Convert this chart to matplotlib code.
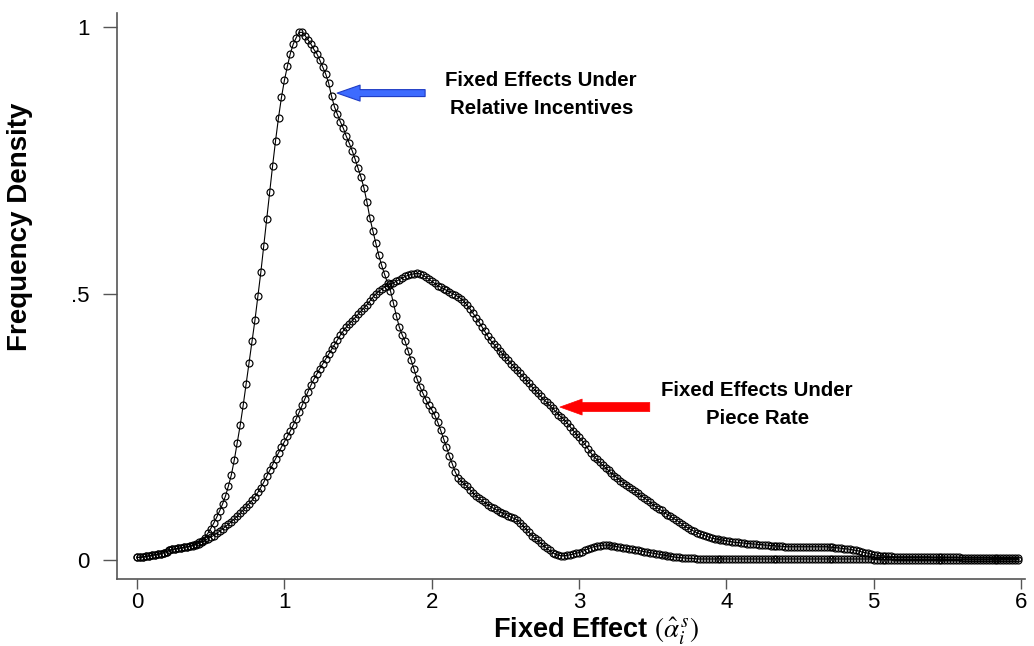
import numpy as np
import matplotlib
matplotlib.use("Agg")
import matplotlib.pyplot as plt

plt.rcParams["font.family"] = ["Liberation Sans", "DejaVu Sans"]
plt.rcParams["mathtext.fontset"] = "stix"

# kernel density evaluation grid (0 .. 5.98, step 0.02)
fe_grid = np.round(np.arange(0, 6.0, 0.02), 2)

# density of fixed effects under relative incentives
relative_density = [
    .005, .005, .006, .007, .008, .009, .010, .011, .012, .014,
    .016, .018, .020, .021, .022, .023, .024, .025, .026, .028,
    .030, .033, .036, .042, .050, .059, .069, .080, .092, .105,
    .120, .139, .160, .188, .220, .253, .290, .330, .370, .410,
    .450, .495, .540, .590, .640, .690, .740, .787, .830, .868,
    .900, .926, .950, .968, .980, .990, .990, .984, .976, .968,
    .958, .950, .938, .925, .912, .895, .870, .850, .836, .822,
    .810, .795, .782, .768, .752, .735, .718, .698, .672, .642,
    .618, .595, .572, .553, .536, .520, .505, .482, .458, .437,
    .422, .410, .392, .375, .358, .340, .325, .313, .301, .290,
    .282, .272, .259, .244, .228, .212, .195, .180, .165, .154,
    .148, .143, .138, .132, .126, .120, .116, .112, .108, .104,
    .100, .097, .094, .091, .088, .086, .083, .080, .078, .075,
    .070, .064, .058, .052, .046, .041, .037, .032, .027, .022,
    .018, .014, .011, .009, .008, .008, .009, .010, .011, .013,
    .014, .016, .018, .021, .023, .025, .026, .027, .028, .028,
    .028, .027, .026, .025, .024, .023, .022, .021, .020, .019,
    .018, .017, .016, .015, .014, .013, .012, .011, .010, .009,
    .008, .007, .006, .005, .005, .004, .004, .003, .003, .003,
    .002, .002, .002, .002, .002, .002, .002, .002, .002, .002,
    .002, .002, .002, .002, .002, .002, .002, .002, .002, .002,
    .002, .002, .002, .002, .002, .002, .002, .002, .002, .002,
    .002, .002, .002, .002, .002, .002, .002, .002, .002, .002,
    .002, .002, .002, .002, .002, .002, .002, .002, .002, .002,
    .002, .002, .002, .002, .002, .002, .002, .002, .002, .002,
    .001, .001, .001, .001, .001, .001, .001, .001, .001, .001,
    .001, .001, .001, .001, .001, .001, .001, .001, .001, .001,
    .001, .001, .001, .001, .001, .001, .001, .001, .001, .001,
    .001, .001, .001, .001, .001, .001, .001, .001, .001, .001,
    .001, .001, .001, .001, .001, .001, .001, .001, .001, .001,
]

# density of fixed effects under piece rate
piece_rate_density = [
    .005, .005, .006, .007, .008, .009, .010, .011, .012, .014,
    .016, .018, .020, .021, .022, .023, .024, .025, .026, .027,
    .029, .031, .034, .037, .040, .043, .046, .050, .054, .058,
    .063, .067, .072, .077, .082, .088, .094, .100, .106, .112,
    .119, .127, .136, .146, .157, .168, .179, .190, .201, .212,
    .222, .232, .242, .253, .265, .277, .290, .303, .316, .328,
    .339, .349, .359, .368, .377, .386, .395, .404, .413, .422,
    .430, .437, .443, .449, .455, .461, .467, .473, .479, .486,
    .493, .499, .504, .508, .512, .515, .518, .520, .523, .526,
    .529, .532, .534, .536, .537, .538, .537, .534, .531, .527,
    .523, .519, .515, .512, .509, .506, .503, .500, .497, .494,
    .490, .485, .478, .471, .463, .455, .447, .438, .429, .420,
    .412, .405, .399, .393, .387, .381, .375, .368, .362, .356,
    .350, .344, .338, .332, .325, .319, .313, .307, .301, .296,
    .290, .285, .279, .273, .268, .263, .257, .250, .243, .237,
    .230, .224, .217, .209, .201, .194, .189, .183, .178, .173,
    .168, .163, .158, .154, .149, .145, .141, .137, .133, .129,
    .125, .121, .117, .113, .109, .104, .100, .096, .093, .089,
    .085, .082, .078, .075, .071, .067, .063, .060, .057, .054,
    .051, .049, .047, .045, .043, .041, .040, .039, .038, .037,
    .036, .035, .034, .033, .033, .032, .032, .031, .031, .030,
    .030, .029, .029, .028, .028, .027, .027, .026, .026, .026,
    .025, .025, .025, .025, .025, .025, .025, .025, .025, .025,
    .025, .025, .025, .025, .025, .024, .024, .023, .023, .022,
    .021, .021, .020, .019, .018, .017, .015, .014, .013, .011,
    .010, .009, .008, .008, .007, .007, .007, .006, .006, .006,
    .006, .006, .006, .006, .006, .006, .006, .006, .006, .006,
    .005, .005, .005, .005, .005, .005, .005, .005, .005, .005,
    .004, .004, .004, .004, .004, .004, .004, .004, .004, .004,
    .003, .003, .003, .003, .003, .003, .003, .003, .003, .003,
]

x_ticks = [0, 1, 2, 3, 4, 5, 6]
y_ticks = [0, 0.5, 1]
y_tick_labels = ["0", ".5", "1"]

fig = plt.figure(figsize=(10.34, 6.46), dpi=100)
ax = fig.add_axes([0.1132, 0.1037, 0.8781, 0.8762])

marker_style = dict(marker="o", markersize=5.0, markerfacecolor="none",
                    markeredgecolor="black", markeredgewidth=0.85,
                    color="black", linewidth=0.8)
ax.plot(fe_grid, relative_density, **marker_style)
ax.plot(fe_grid, piece_rate_density, **marker_style)

ax.set_xlim(-0.136, 6.027)
ax.set_ylim(-0.0356, 1.0263)
ax.set_xticks(x_ticks)
ax.set_yticks(y_ticks)
ax.set_yticklabels(y_tick_labels)

for side in ["top", "right"]:
    ax.spines[side].set_visible(False)
for side in ["left", "bottom"]:
    ax.spines[side].set_color("#555555")
    ax.spines[side].set_linewidth(1.2)
ax.tick_params(direction="out", width=1, color="#555555", labelsize=16)
ax.tick_params(axis="x", length=7.5, pad=2)
ax.tick_params(axis="y", length=10, pad=10)

ax.set_ylabel("Frequency Density", fontsize=20, fontweight="bold")
ax.yaxis.set_label_coords(-0.0925, 0.622)
ax.set_xlabel("Fixed Effect " + r"$(\hat{\alpha}_i^{\,s})$",
              fontsize=19.5, fontweight="bold")
ax.xaxis.set_label_coords(0.5275, -0.1035)
ax.xaxis.label.set_va("baseline")

# arrows and notes
ax.annotate("", xy=(1.358, 0.876), xytext=(1.955, 0.876),
            arrowprops=dict(arrowstyle="simple,head_length=1.65,head_width=1.15,tail_width=0.5",
                            mutation_scale=10, fc="#3d6bff", ec="#1f3cc4",
                            lw=0.8, shrinkA=0, shrinkB=0))
ax.text(2.743, 0.874, "Fixed Effects Under\nRelative Incentives",
        ha="center", va="center", fontsize=14.7, fontweight="bold",
        linespacing=1.6)

ax.annotate("", xy=(2.87, 0.287), xytext=(3.48, 0.287),
            arrowprops=dict(arrowstyle="simple,head_length=1.6,head_width=1.15,tail_width=0.65",
                            mutation_scale=10, fc="#ff0000", ec="#ff0000",
                            lw=0.5, shrinkA=0, shrinkB=0))
ax.text(4.209, 0.291, "Fixed Effects Under\nPiece Rate",
        ha="center", va="center", fontsize=14.7, fontweight="bold",
        linespacing=1.6)

fig.savefig("out.png", dpi=100)
